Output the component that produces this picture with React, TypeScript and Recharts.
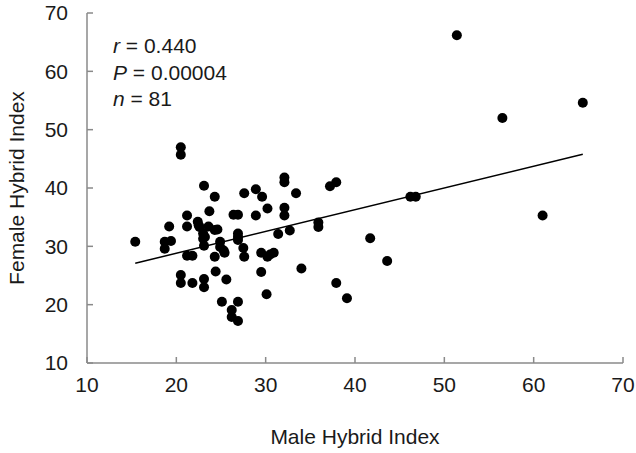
import { ScatterChart, Scatter, XAxis, YAxis, ReferenceLine } from 'recharts';

// male / female hybrid index pairs
const maleIndex = [
  15.4, 18.7, 19.4, 18.7, 19.2, 20.5, 20.5, 20.5, 20.5, 21.2,
  21.2, 21.2, 21.8, 21.8, 22.4, 22.6, 23.1, 23.7, 23.0, 23.0,
  23.1, 23.1, 23.1, 23.6, 24.3, 24.3, 24.3, 24.4, 24.9, 24.9,
  25.1, 25.4, 25.6, 26.2, 26.2, 26.9, 26.9, 26.4, 26.9, 26.9,
  26.9, 27.5, 27.6, 27.6, 28.9, 29.6, 28.9, 30.2, 29.5, 30.2,
  30.9, 29.5, 30.1, 31.4, 32.1, 32.1, 33.4, 32.1, 32.1, 32.7,
  34.0, 35.9, 35.9, 37.2, 37.9, 37.9, 39.1, 41.7, 43.6, 46.2,
  46.8, 51.4, 56.5, 61.0, 65.5, 23.2, 24.6, 25.3, 26.9, 22.5,
  30.5,
];
const femaleIndex = [
  30.8, 30.8, 30.9, 29.6, 33.4, 47.0, 45.7, 25.1, 23.7, 35.3,
  33.4, 28.4, 28.4, 23.7, 34.2, 33.3, 40.4, 36.0, 32.2, 31.3,
  30.1, 24.4, 23.0, 33.4, 38.5, 32.8, 28.2, 25.7, 30.8, 29.9,
  20.5, 28.9, 24.3, 19.1, 17.9, 17.2, 20.5, 35.4, 35.4, 32.2,
  31.1, 29.7, 28.2, 39.1, 39.8, 38.5, 35.3, 36.5, 28.9, 28.2,
  28.9, 25.6, 21.8, 32.1, 41.8, 41.0, 39.1, 36.6, 35.3, 32.7,
  26.2, 34.1, 33.3, 40.3, 41.0, 23.7, 21.1, 31.4, 27.5, 38.5,
  38.5, 66.2, 52.0, 35.3, 54.6, 31.6, 32.9, 29.3, 31.6, 33.6,
  28.6,
];
const xTicks = [10, 20, 30, 40, 50, 60, 70];
const yTicks = [10, 20, 30, 40, 50, 60, 70];
// fitted line as printed: female index at the smallest and largest male index
const fitX = [15.4, 65.5];
const fitY = [27.1, 45.8];
const statNames = ['r', 'P', 'n'];
const statValues = ['0.440', '0.00004', '81'];

const points = maleIndex.map((x, i) => ({ x, y: femaleIndex[i] }));

const font = '"Liberation Sans", Arial, sans-serif';
const axisColor = '#8a8a8a';
const textColor = '#1a1a1a';
const fs = 21;

if (typeof document !== 'undefined') {
  document.body.style.margin = '0';
  document.body.style.overflow = 'hidden';
}

export default function App() {
  return (
    <div style={{ position: 'relative', width: 636, height: 453, background: '#fff', fontFamily: font }}>
      <ScatterChart
        width={636}
        height={453}
        margin={{ top: 13, right: 13, left: 0, bottom: 0 }}
        style={{ overflow: 'visible' }}
      >
        <XAxis
          type="number"
          dataKey="x"
          domain={[10, 70]}
          ticks={xTicks}
          height={90}
          stroke={axisColor}
          strokeWidth={1.5}
          tickSize={-6}
          tickMargin={20}
          tick={{ fill: textColor, fontSize: fs, fontFamily: font }}
          label={{ value: 'Male Hybrid Index', position: 'insideBottom', offset: 9, fill: textColor, fontSize: fs, fontFamily: font }}
        />
        <YAxis
          type="number"
          dataKey="y"
          domain={[10, 70]}
          ticks={yTicks}
          width={87}
          stroke={axisColor}
          strokeWidth={1.5}
          tickSize={-6}
          tickMargin={25}
          tick={{ fill: textColor, fontSize: fs, fontFamily: font }}
          label={{
            value: 'Female Hybrid Index',
            angle: -90,
            position: 'insideLeft',
            offset: 17,
            fill: textColor,
            fontSize: fs,
            fontFamily: font,
            style: { textAnchor: 'middle' },
          }}
        />
        <ReferenceLine
          segment={[
            { x: fitX[0], y: fitY[0] },
            { x: fitX[1], y: fitY[1] },
          ]}
          stroke="#000"
          strokeWidth={1.5}
        />
        <Scatter
          data={points}
          isAnimationActive={false}
          shape={(p: any) => <circle cx={p.cx} cy={p.cy} r={5} fill="#000" />}
        />
      </ScatterChart>
      <svg width={636} height={453} style={{ position: 'absolute', left: 0, top: 0, pointerEvents: 'none' }}>
        {statNames.map((s, i) => (
          <text key={s} x={113} y={53 + i * 26.5} fontSize={fs} fontFamily={font} fill={textColor}>
            <tspan fontStyle="italic">{s}</tspan>
            {' = ' + statValues[i]}
          </text>
        ))}
      </svg>
    </div>
  );
}
